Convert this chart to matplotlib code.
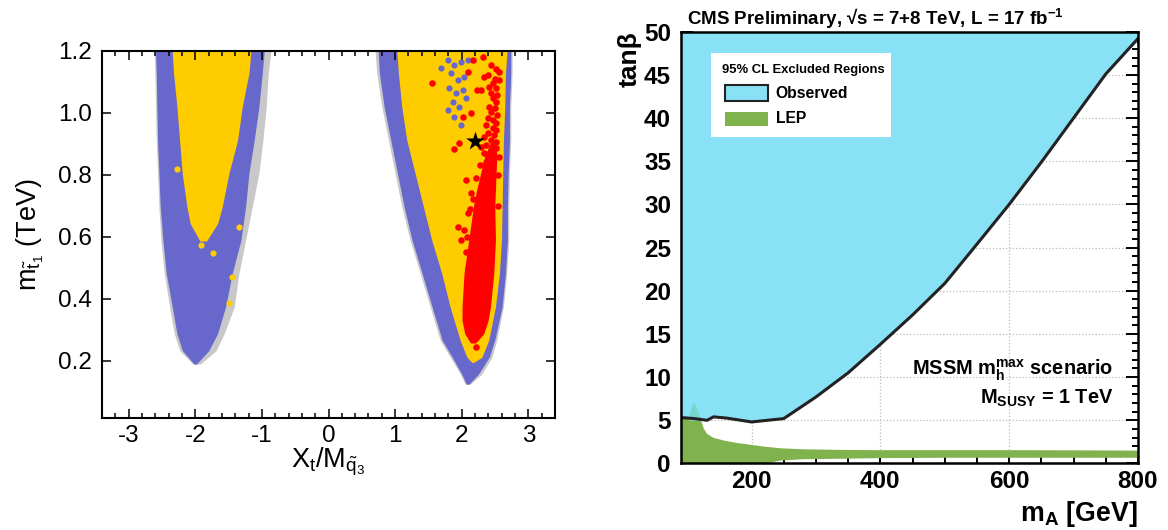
import numpy as np
import matplotlib
matplotlib.use('Agg')
import matplotlib.pyplot as plt
from matplotlib.patches import Rectangle
from matplotlib.ticker import MultipleLocator, FormatStrFormatter

plt.rcParams['font.family'] = ['Liberation Sans', 'DejaVu Sans']
plt.rcParams['mathtext.fontset'] = 'custom'
plt.rcParams['mathtext.rm'] = 'Liberation Sans'
plt.rcParams['mathtext.it'] = 'Liberation Sans:italic'
plt.rcParams['mathtext.bf'] = 'Liberation Sans:bold'
plt.rcParams['axes.unicode_minus'] = False

# ── left panel: scan regions ─────────────────────────────────────────────────
# negative-Xt branch
negY = [1.2, 1.127, 1.02, 0.912, 0.805, 0.697, 0.589, 0.482, 0.374, 0.288, 0.234, 0.192]
neg_grey_l = [-2.60, -2.59, -2.58, -2.57, -2.55, -2.53, -2.50, -2.45, -2.37, -2.30, -2.22, -2.03]
neg_grey_r = [-0.88, -0.92, -0.95, -1.00, -1.06, -1.16, -1.26, -1.36, -1.43, -1.58, -1.70, -1.93]
neg_blue_l = [-2.58, -2.57, -2.56, -2.55, -2.53, -2.51, -2.47, -2.42, -2.33, -2.26, -2.18, -2.01]
neg_blue_r = [-0.98, -1.01, -1.06, -1.13, -1.21, -1.26, -1.33, -1.46, -1.56, -1.68, -1.81, -1.99]
negY_yel = [1.2, 1.127, 1.02, 0.912, 0.805, 0.697, 0.643, 0.589]
neg_yel_l = [-2.33, -2.31, -2.26, -2.22, -2.18, -2.11, -2.06, -1.92]
neg_yel_r = [-1.18, -1.21, -1.31, -1.38, -1.51, -1.61, -1.68, -1.84]

# positive-Xt branch
posY = [1.2, 1.127, 1.02, 0.912, 0.805, 0.697, 0.589, 0.482, 0.374, 0.267, 0.213, 0.159, 0.127]
pos_grey_l = [0.715, 0.74, 0.815, 0.915, 1.015, 1.115, 1.24, 1.39, 1.54, 1.69, 1.84, 1.99, 2.06]
pos_grey_r = [2.74, 2.74, 2.72, 2.72, 2.70, 2.69, 2.69, 2.66, 2.61, 2.51, 2.44, 2.29, 2.12]
pos_blue_l = [0.76, 0.78, 0.85, 0.95, 1.05, 1.15, 1.27, 1.42, 1.57, 1.72, 1.87, 2.01, 2.08]
pos_blue_r = [2.72, 2.72, 2.70, 2.70, 2.68, 2.67, 2.67, 2.64, 2.59, 2.48, 2.40, 2.24, 2.10]
posY_yel = [1.2, 1.127, 1.02, 0.912, 0.805, 0.697, 0.589, 0.482, 0.374, 0.267, 0.213, 0.197]
pos_yel_l = [1.04, 1.065, 1.115, 1.19, 1.315, 1.44, 1.565, 1.715, 1.84, 1.99, 2.09, 2.16]
pos_yel_r = [2.665, 2.64, 2.63, 2.61, 2.60, 2.59, 2.58, 2.55, 2.49, 2.39, 2.29, 2.17]
posY_red = [0.90, 0.858, 0.805, 0.751, 0.697, 0.589, 0.482, 0.374, 0.33, 0.288, 0.26]
pos_red_l = [2.44, 2.36, 2.30, 2.24, 2.19, 2.12, 2.05, 2.02, 2.02, 2.06, 2.14]
pos_red_r = [2.50, 2.51, 2.50, 2.49, 2.48, 2.49, 2.465, 2.415, 2.38, 2.315, 2.20]

# single points
red_x = [2.165, 2.315, 2.44, 2.514, 2.564, 2.40, 2.34, 2.50, 2.564, 2.465, 2.415, 2.514,
         2.23, 2.29, 2.44, 2.53, 2.465, 2.52, 2.415, 2.50, 2.44, 2.53, 2.39, 2.465, 2.514,
         2.365, 2.465, 2.52, 2.39, 2.49, 2.34, 2.44, 2.514, 2.365, 2.29, 2.465, 2.52, 2.564,
         2.09, 2.14, 2.015, 1.964, 1.88, 1.555, 2.065, 2.14, 1.95, 1.99, 2.04, 2.09, 2.214, 2.114,
         2.27, 2.22, 2.17, 2.12, 2.08, 2.06, 2.10, 2.33, 2.36, 2.55, 2.54]
red_y = [1.17, 1.179, 1.154, 1.14, 1.132, 1.122, 1.116, 1.108, 1.105, 1.095, 1.084, 1.079,
         1.073, 1.073, 1.063, 1.057, 1.046, 1.035, 1.019, 1.014, 1.003, 0.993, 0.982, 0.976, 0.966,
         0.960, 0.950, 0.944, 0.934, 0.928, 0.923, 0.912, 0.907, 0.896, 0.890, 0.890, 0.885, 0.858,
         1.132, 0.998, 0.985, 0.901, 0.882, 1.095, 0.783, 0.740, 0.632, 0.589, 0.622, 0.675, 0.245, 0.288,
         0.83, 0.79, 0.72, 0.69, 0.60, 0.55, 0.50, 0.87, 0.84, 0.80, 0.70]
blue_x = [1.79, 1.89, 1.99, 1.84, 1.94, 2.04, 1.814, 1.915, 2.015, 1.865, 1.964, 2.065, 1.89, 1.99, 1.79, 2.09, 1.69]
blue_y = [1.17, 1.154, 1.165, 1.127, 1.105, 1.116, 1.079, 1.063, 1.073, 1.035, 1.019, 1.046, 0.987, 0.960, 1.009, 1.17, 1.143]
yel_x = [-2.28, -1.91, -1.73, -1.35, -1.45, -1.50]
yel_y = [0.817, 0.573, 0.548, 0.63, 0.469, 0.387]
star_x, star_y = [2.20], [0.91]

# ── right panel: MSSM mhmax exclusion ────────────────────────────────────────
obs_mA = [90, 111, 131, 141, 162, 200, 250, 300, 350, 400, 450, 500, 550, 600, 650, 700, 750, 800]
obs_tb = [5.32, 5.2, 5.0, 5.4, 5.25, 4.81, 5.2, 7.7, 10.5, 13.8, 17.2, 20.85, 25.4, 30.0, 34.9, 40.0, 45.1, 49.2]
lep_mA = [90, 100, 110, 118, 122, 125, 130, 140, 156, 175, 200, 220, 244, 280, 350, 400, 500, 600, 700, 800]
lep_hi = [5.3, 5.3, 5.3, 5.2, 4.8, 4.1, 3.5, 3.03, 2.72, 2.45, 2.2, 2.0, 1.82, 1.7, 1.62, 1.6, 1.6, 1.6, 1.58, 1.55]
lep_lo = [0, 0, 0, 0, 0, 0, 0, 0, 0, 0, 0, 0.02, 0.4, 0.55, 0.62, 0.68, 0.72, 0.72, 0.72, 0.72]
bump_mA = [102, 105, 108, 110, 113, 116, 119, 122]
bump_tb = [5.3, 6.2, 6.9, 7.0, 6.8, 6.1, 5.5, 5.2]

GREY, BLUE, YEL, RED = '#c8c8c8', '#6868cc', '#ffcc00', '#ff0000'
CYAN, GREEN, TEAL = '#88e1f5', '#80b24e', '#78d5d0'

fig = plt.figure(figsize=(11.68, 5.30), dpi=100)
ax1 = fig.add_axes([0.0873, 0.2104, 0.3879, 0.6939])
ax2 = fig.add_axes([0.5828, 0.1255, 0.3915, 0.8147])

# left
for y, l, r, c in [(negY, neg_grey_l, neg_grey_r, GREY), (posY, pos_grey_l, pos_grey_r, GREY),
                   (negY, neg_blue_l, neg_blue_r, BLUE), (posY, pos_blue_l, pos_blue_r, BLUE),
                   (negY_yel, neg_yel_l, neg_yel_r, YEL), (posY_yel, pos_yel_l, pos_yel_r, YEL),
                   (posY_red, pos_red_l, pos_red_r, RED)]:
    ax1.fill_betweenx(y, l, r, color=c, lw=1.5, edgecolor=c)
ax1.scatter(blue_x, blue_y, s=20, color=BLUE, lw=0, zorder=3)
ax1.scatter(yel_x, yel_y, s=20, color=YEL, lw=0, zorder=3)
ax1.scatter(red_x, red_y, s=22, color=RED, lw=0, zorder=4)
ax1.scatter(star_x, star_y, s=200, marker='*', color='black', lw=0, zorder=5)

ax1.set_xlim(-3.4, 3.4)
ax1.set_ylim(0.013, 1.2)
ax1.xaxis.set_major_locator(MultipleLocator(1))
ax1.xaxis.set_minor_locator(MultipleLocator(0.2))
ax1.yaxis.set_major_locator(MultipleLocator(0.2))
ax1.yaxis.set_major_formatter(FormatStrFormatter('%.1f'))
ax1.tick_params(which='both', direction='in', top=True, right=True, width=1.1, labelsize=17.5)
ax1.tick_params(which='major', length=6.5)
ax1.tick_params(which='minor', length=3.6)
ax1.tick_params(axis='x', pad=5)
ax1.tick_params(axis='y', pad=7)
for s in ax1.spines.values():
    s.set_linewidth(1.5)
fig.text(328.5 / 1168, 1 - 446 / 530, r'$\mathrm{X_t/M_{\tilde{q}_3}}$', fontsize=19.5,
         ha='center', va='top')
fig.text(30 / 1168, 0.5574, r'$\mathrm{m_{\tilde{t}_1}}$ (TeV)', fontsize=19.5, rotation=90,
         ha='center', va='center')

# right
ax2.fill_between(obs_mA, obs_tb, 50, color=CYAN, lw=0, zorder=1)
ax2.fill_between(lep_mA, lep_lo, lep_hi, color=GREEN, lw=0, zorder=2)
ax2.fill_between(bump_mA, 5.0, bump_tb, color=TEAL, lw=0, zorder=2)
ax2.plot(obs_mA, obs_tb, color='#222222', lw=2.2, zorder=3)

ax2.set_xlim(90, 800)
ax2.set_ylim(0, 50)
ax2.xaxis.set_major_locator(MultipleLocator(200))
ax2.xaxis.set_minor_locator(MultipleLocator(50))
ax2.yaxis.set_major_locator(MultipleLocator(5))
ax2.yaxis.set_minor_locator(MultipleLocator(1))
ax2.grid(True, which='major', color='#bbbbbb', ls=':', lw=0.9, zorder=0)
ax2.set_axisbelow(True)
ax2.tick_params(which='both', direction='in', top=True, right=True, width=1.4, labelsize=17.5)
ax2.tick_params(which='major', length=8.6)
ax2.tick_params(which='minor', length=4.3)
ax2.tick_params(axis='x', pad=5)
ax2.tick_params(axis='y', pad=7)
for lab in ax2.get_xticklabels() + ax2.get_yticklabels():
    lab.set_fontweight('bold')
for s in ax2.spines.values():
    s.set_linewidth(1.8)
    s.set_zorder(6)

# legend box
ax2.add_patch(Rectangle((137, 37.8), 279, 9.7, facecolor='white', edgecolor='none', zorder=7))
ax2.text(153.7, 45.2, '95% CL Excluded Regions', fontsize=9.4, fontweight='bold', zorder=8)
ax2.add_patch(Rectangle((158, 41.97), 67, 1.86, facecolor=CYAN, edgecolor='#222222', lw=1.5, zorder=8))
ax2.text(237.5, 42.9, 'Observed', fontsize=11.3, fontweight='bold', va='center', zorder=8)
ax2.add_patch(Rectangle((158, 39.08), 67, 1.66, facecolor=GREEN, edgecolor='none', zorder=8))
ax2.text(237.5, 39.9, 'LEP', fontsize=11.3, fontweight='bold', va='center', zorder=8)

ax2.text(761.7, 10.25, r'MSSM $\mathbf{m_h^{max}}$ scenario', fontsize=14.4, fontweight='bold',
         ha='right', va='baseline', zorder=8)
ax2.text(761.7, 6.97, r'$\mathbf{M_{SUSY}}$ = 1 TeV', fontsize=14.4, fontweight='bold',
         ha='right', va='baseline', zorder=8)

fig.text(686.7 / 1168, 1 - 25 / 530, r'CMS Preliminary, √s = 7+8 TeV, L = 17 fb$^{\mathbf{-1}}$',
         fontsize=13.5, fontweight='bold', ha='left', va='baseline')
fig.text(1138 / 1168, 1 - 521 / 530, r'$\mathbf{m_A}$ [GeV]', fontsize=19.3, fontweight='bold',
         ha='right', va='baseline')
fig.text(630 / 1168, 1 - 31 / 530, 'tanβ', fontsize=19, fontweight='bold', rotation=90,
         ha='center', va='top')

fig.savefig('out.png', dpi=100)
